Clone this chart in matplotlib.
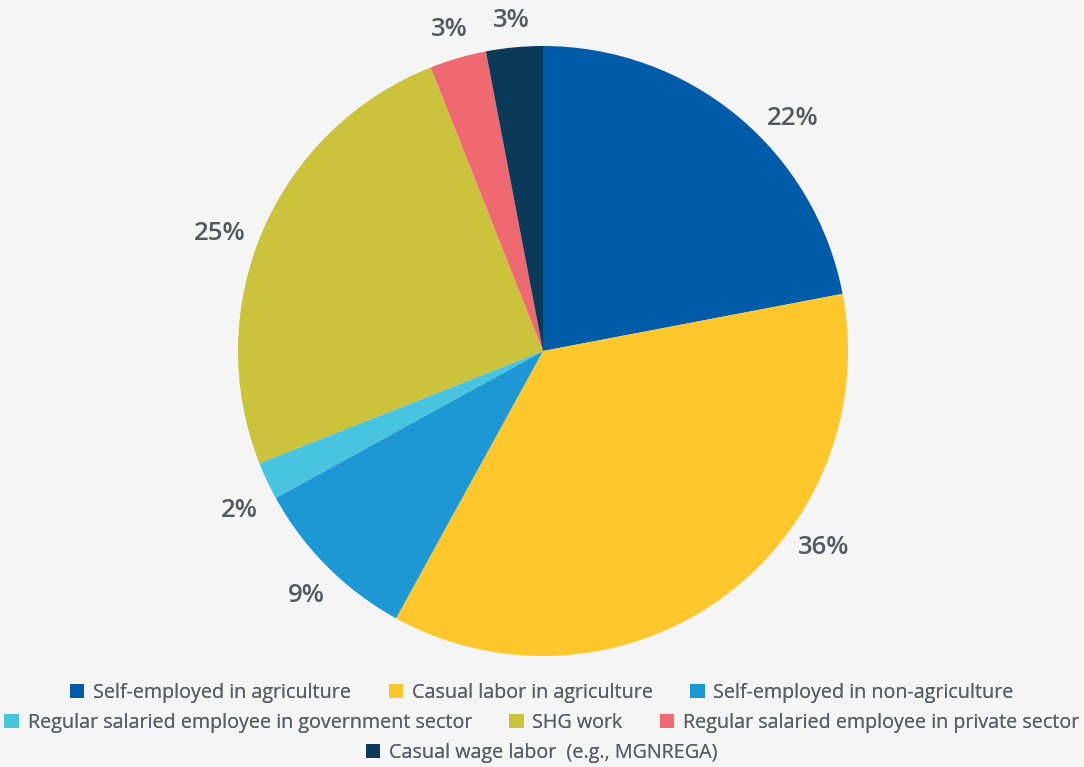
import numpy as np
import matplotlib.pyplot as plt
from matplotlib.patches import Patch

categories = [
    'Self-employed in agriculture',
    'Casual labor in agriculture',
    'Self-employed in non-agriculture',
    'Regular salaried employee in government sector',
    'SHG work',
    'Regular salaried employee in private sector',
    'Casual wage labor  (e.g., MGNREGA)',
]
shares = [22, 36, 9, 2, 25, 3, 3]
colors = ['#005ba9', '#ffc72c', '#1e98d5', '#48c3e0', '#cbc33c', '#ee6a70', '#0b3a58']

# legend rows as laid out under the pie
legend_rows = [[0, 1, 2], [3, 4, 5], [6]]

bg = '#f5f5f5'
txt = '#55585e'
plt.rcParams['font.family'] = ['Open Sans', 'DejaVu Sans']

fig = plt.figure(figsize=(10.84, 7.67), dpi=100, facecolor=bg)
W, H = 1084, 767
cx, cy, r = 543, 351, 305
ax = fig.add_axes([(cx - r) / W, (H - cy - r) / H, 2 * r / W, 2 * r / H])
ax.set_facecolor(bg)

wedges, _ = ax.pie(shares, colors=colors, startangle=90, counterclock=False,
                   radius=1, wedgeprops=dict(linewidth=0))
ax.set_xlim(-1, 1)
ax.set_ylim(-1, 1)
ax.set_aspect('auto')
ax.axis('off')

# labels sit just outside the rim; wider offset to the sides than above
nudge = [-7.5, 19, 1, 2.5, 3.5, 0, 0]
for w, v, dn in zip(wedges, shares, nudge):
    mid = np.deg2rad((w.theta1 + w.theta2) / 2 + dn)
    dist = 1.085 + 0.045 * abs(np.cos(mid))
    ax.text(dist * np.cos(mid), dist * np.sin(mid), '%d%%' % v,
            ha='center', va='center', fontsize=18.5, fontweight='semibold',
            color=txt, clip_on=False)

row_y = [693, 723, 753]
for row, y in zip(legend_rows, row_y):
    handles = [Patch(facecolor=colors[i], edgecolor='none') for i in row]
    labels = [categories[i] for i in row]
    leg = fig.legend(handles, labels, loc='center', bbox_to_anchor=(0.5, 1 - y / H),
                     ncol=len(row), frameon=False, fontsize=14.2, labelcolor='#5a5d63',
                     handlelength=0.72, handleheight=0.72, handletextpad=0.45,
                     columnspacing=1.9, borderaxespad=0, borderpad=0)
    fig.add_artist(leg)

fig.savefig('out.png', dpi=100, facecolor=bg)
